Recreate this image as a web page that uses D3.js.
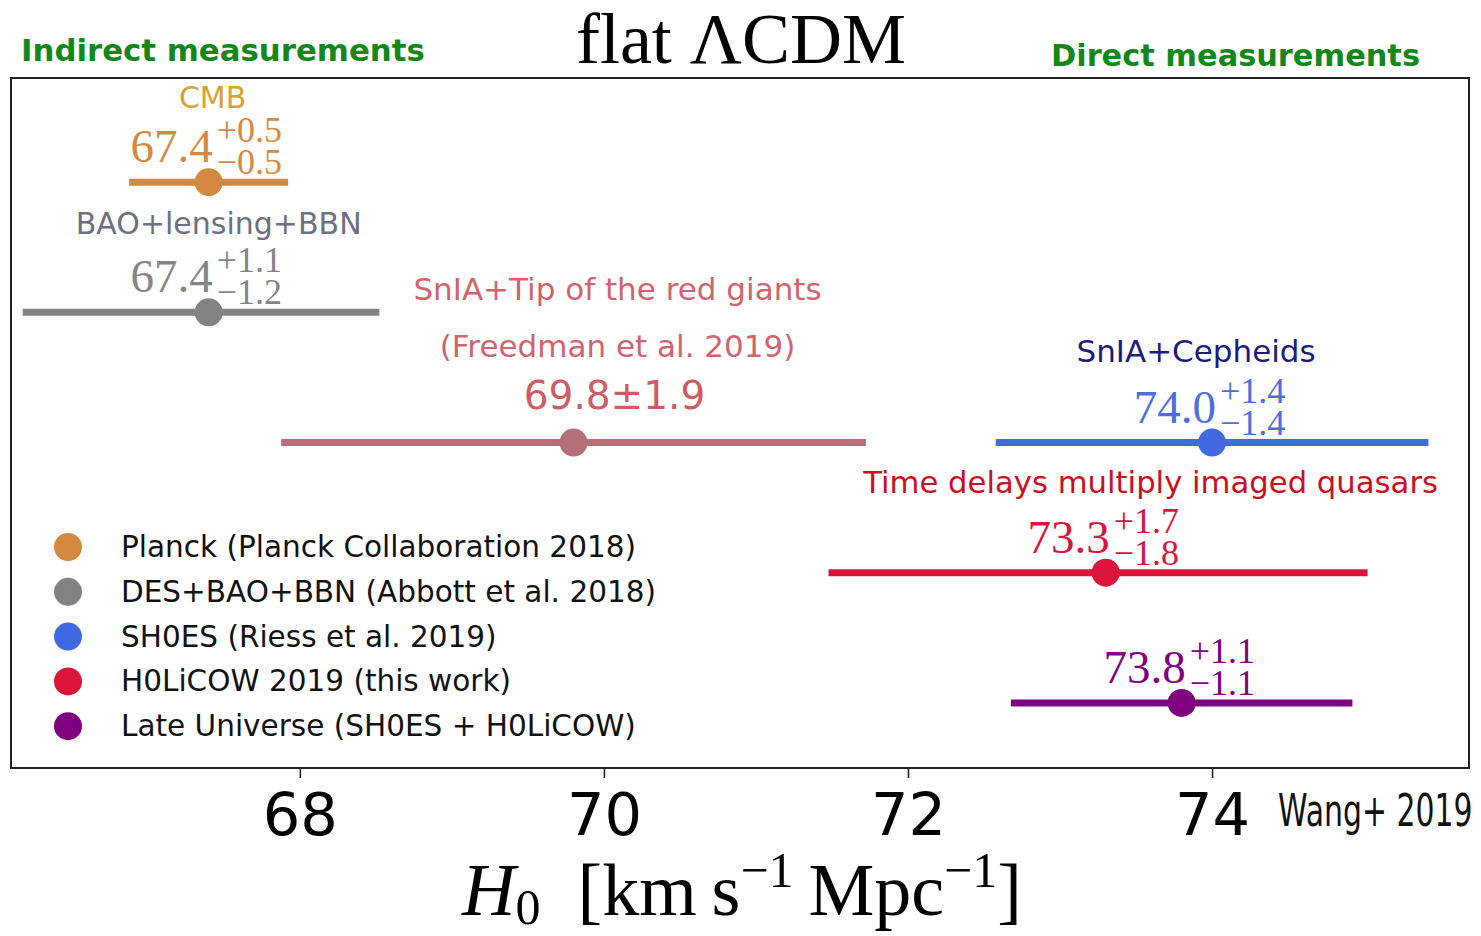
<!DOCTYPE html>
<html>
<head>
<meta charset="utf-8">
<script src="https://cdn.jsdelivr.net/npm/d3@7"></script>
<style>
  html, body { margin: 0; padding: 0; background: #fff; }
  svg { display: block; }
</style>
</head>
<body>
<svg id="chart" width="1481" height="936"></svg>
<script>
// H0 measurements in flat LCDM, km/s/Mpc
const measurements = ["Planck", "DES+BAO+BBN", "Freedman", "SH0ES", "H0LiCOW", "Late Universe"];
const h0Values   = [67.4, 67.4, 69.8, 74.0, 73.3, 73.8];
const errMinus   = [0.5, 1.2, 1.9, 1.4, 1.8, 1.1];
const errPlus    = [0.5, 1.1, 1.9, 1.4, 1.7, 1.1];
const rowIndex   = [0, 1, 2, 2, 3, 4];
const symmetricLabel = [false, false, true, false, false, false];
const methodTitles = [
  ["CMB"],
  ["BAO+lensing+BBN"],
  ["SnIA+Tip of the red giants", "(Freedman et al. 2019)"],
  ["SnIA+Cepheids"],
  ["Time delays multiply imaged quasars"],
  []
];
const legendLabels = [
  "Planck (Planck Collaboration 2018)",
  "DES+BAO+BBN (Abbott et al. 2018)",
  "SH0ES (Riess et al. 2019)",
  "H0LiCOW 2019 (this work)",
  "Late Universe (SH0ES + H0LiCOW)"
];
const legendSeries = [0, 1, 3, 4, 5];
const xTicks = [68, 70, 72, 74];

// styling
const markColors  = ["#d2883f", "#828282", "#b46f78", "#4169e1", "#dc143c", "#800080"];
const valueColors = ["#d4893f", "#858585", "#cc5c66", "#4a6fdc", "#dc143c", "#800080"];
const titleColors = ["#d8a232", "#6c7080", "#d0646e", "#1c1c7a", "#cc0f1e", "#000"];
// per-row layout offsets (pixels, relative to the point / bar)
const titleLayout = [
  { dx: 4,   dy: [-74],       size: 30 },
  { dx: 10,  dy: [-78],       size: 30 },
  { dx: 44,  dy: [-143, -86], size: 31 },
  { dx: -16, dy: [-81],       size: 31 },
  { dx: 45,  dy: [-80],       size: 30.7 },
  { dx: 0,   dy: [],          size: 30 }
];

const plot = { left: 11, right: 1469, top: 78, bottom: 768 };

const x = d3.scaleLinear().domain([66.1, 75.69]).range([plot.left, plot.right]);
const y = d3.scaleLinear().domain([-0.8, 4.5]).range([plot.top, plot.bottom]);

const svg = d3.select("#chart");
const sans = "'DejaVu Sans', Verdana, sans-serif";
const serif = "'Liberation Serif', 'Times New Roman', serif";

// frame
svg.append("rect")
  .attr("x", plot.left).attr("y", plot.top)
  .attr("width", plot.right - plot.left).attr("height", plot.bottom - plot.top)
  .attr("fill", "none").attr("stroke", "#222").attr("stroke-width", 2);

// x axis
const xAxis = d3.axisBottom(x).tickValues(xTicks).tickSize(10).tickPadding(8)
  .tickFormat(d3.format("d"));
const gx = svg.append("g").attr("transform", `translate(0,${plot.bottom})`).call(xAxis);
gx.select(".domain").remove();
gx.selectAll(".tick line").attr("stroke", "#222").attr("stroke-width", 1.6);
gx.selectAll(".tick text")
  .attr("font-family", sans).attr("font-size", 59).attr("fill", "#000")
  .attr("dy", null).attr("y", 67);

// error bars
const idx = d3.range(measurements.length);
svg.append("g").selectAll("line").data(idx).join("line")
  .attr("x1", i => x(h0Values[i] - errMinus[i]))
  .attr("x2", i => x(h0Values[i] + errPlus[i]))
  .attr("y1", i => y(rowIndex[i])).attr("y2", i => y(rowIndex[i]))
  .attr("stroke", i => markColors[i])
  .attr("stroke-width", 7)
  .attr("stroke-linecap", "square");

// central values
svg.append("g").selectAll("circle").data(idx).join("circle")
  .attr("cx", i => x(h0Values[i]))
  .attr("cy", i => y(rowIndex[i]))
  .attr("r", 14)
  .attr("fill", i => markColors[i]);

// method titles
idx.forEach(i => {
  const lay = titleLayout[i];
  methodTitles[i].forEach((t, k) => {
    svg.append("text")
      .attr("x", x(h0Values[i]) + lay.dx)
      .attr("y", y(rowIndex[i]) + lay.dy[k])
      .attr("text-anchor", "middle")
      .attr("font-family", sans).attr("font-size", lay.size)
      .attr("fill", titleColors[i])
      .text(t);
  });
});

// value labels: central value with upper / lower errors stacked to its right
idx.forEach(i => {
  const cx = x(h0Values[i]);
  const cy = y(rowIndex[i]);
  if (symmetricLabel[i]) {
    svg.append("text")
      .attr("x", cx + 41).attr("y", cy - 34)
      .attr("text-anchor", "middle")
      .attr("font-family", sans).attr("font-size", 39)
      .attr("fill", valueColors[i])
      .text(`${h0Values[i].toFixed(1)}±${errPlus[i].toFixed(1)}`);
    return;
  }
  const base = cy - 20;
  svg.append("text")
    .attr("x", cx + 4).attr("y", base)
    .attr("text-anchor", "end")
    .attr("font-family", serif).attr("font-size", 47)
    .attr("fill", valueColors[i])
    .text(h0Values[i].toFixed(1));
  const errs = svg.append("text")
    .attr("font-family", serif).attr("font-size", 36)
    .attr("fill", valueColors[i]);
  errs.append("tspan").attr("x", cx + 8).attr("y", base - 20)
    .text("+" + errPlus[i].toFixed(1));
  errs.append("tspan").attr("x", cx + 8).attr("y", base + 12)
    .text("\u2212" + errMinus[i].toFixed(1));
});

// legend
const legend = svg.append("g").attr("transform", "translate(68,547)");
legendLabels.forEach((label, k) => {
  const gy = k * 44.8;
  legend.append("circle").attr("cx", 0).attr("cy", gy).attr("r", 14)
    .attr("fill", markColors[legendSeries[k]]);
  legend.append("text").attr("x", 53).attr("y", gy + 10)
    .attr("font-family", sans).attr("font-size", 29.5).attr("fill", "#111")
    .text(label);
});

// headings
svg.append("text").attr("x", 741).attr("y", 63).attr("text-anchor", "middle")
  .attr("font-family", serif).attr("font-size", 72).attr("fill", "#000")
  .text("flat ΛCDM");
svg.append("text").attr("x", 21).attr("y", 61)
  .attr("font-family", sans).attr("font-weight", "bold").attr("font-size", 30.8)
  .attr("fill", "#12871a").text("Indirect measurements");
svg.append("text").attr("x", 1420).attr("y", 66).attr("text-anchor", "end")
  .attr("font-family", sans).attr("font-weight", "bold").attr("font-size", 30.4)
  .attr("fill", "#12871a").text("Direct measurements");

// credit
svg.append("text")
  .attr("transform", "translate(1278,826) scale(0.68,1)")
  .attr("font-family", sans).attr("font-size", 44).attr("fill", "#111")
  .text("Wang+ 2019");

// x axis label
const xl = svg.append("text").attr("x", 742).attr("y", 915)
  .attr("text-anchor", "middle")
  .attr("font-family", serif).attr("font-size", 74).attr("fill", "#000");
xl.append("tspan").attr("font-style", "italic").text("H");
xl.append("tspan").attr("font-size", 50).attr("dy", 9).text("0");
xl.append("tspan").attr("dy", -9).text("\u2002[km\u2009s");
xl.append("tspan").attr("font-size", 50).attr("dy", -28).text("\u22121");
xl.append("tspan").attr("dy", 28).text("\u2009Mpc");
xl.append("tspan").attr("font-size", 50).attr("dy", -28).text("\u22121");
xl.append("tspan").attr("dy", 28).text("]");
</script>
</body>
</html>
